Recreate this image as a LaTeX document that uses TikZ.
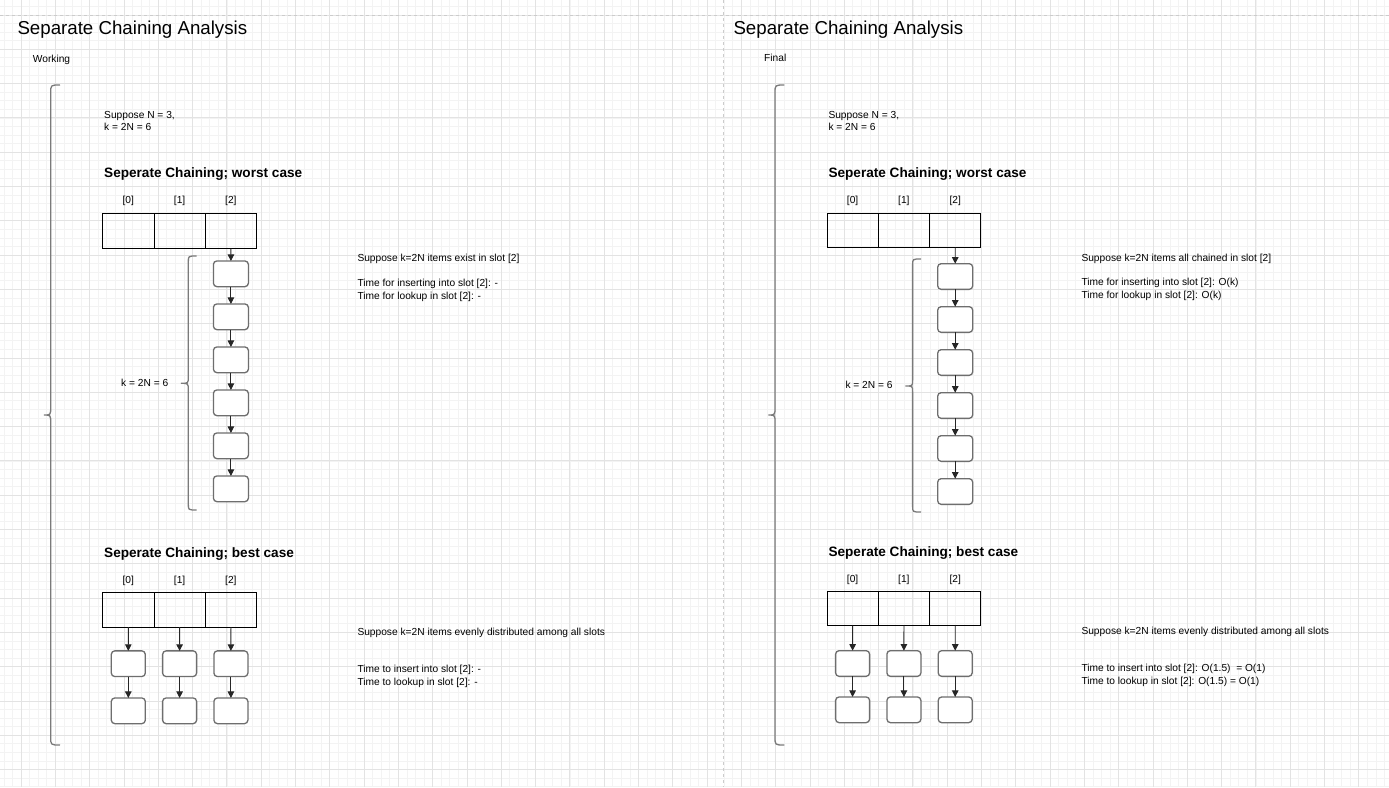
\documentclass[tikz,border=0pt]{standalone}
\usepackage{fontspec}
\setmainfont{Liberation Sans}
\usetikzlibrary{arrows.meta}
\definecolor{minorgrid}{HTML}{F3F3F3}
\definecolor{majorgrid}{HTML}{E3E3E3}
\definecolor{pageline}{HTML}{CCCCCC}
\definecolor{itemline}{HTML}{6E6E6E}
\definecolor{braceline}{HTML}{7A7A7A}
\tikzset{
  txt/.style={font=\fontsize{10.2}{12}\selectfont, inner sep=0pt, anchor=base west},
  idx/.style={font=\fontsize{10.2}{12}\selectfont, inner sep=0pt, anchor=base},
  bigtitle/.style={font=\fontsize{18.7}{22}\selectfont, inner sep=0pt, anchor=base west},
  header/.style={font=\bfseries\fontsize{13.6}{16}\selectfont, inner sep=0pt, anchor=base west},
  cell/.style={draw=black, line width=0.9pt, minimum width=51.3pt, minimum height=34.6pt, inner sep=0pt, outer sep=0pt, anchor=north west},
  item/.style={draw=itemline, fill=white, rounded corners=3.5pt, line width=1.3pt, minimum width=35pt, minimum height=25.7pt, inner sep=0pt, outer sep=0pt},
  link/.style={-{Triangle[length=6.5pt,width=6.5pt]}, line width=0.9pt, draw=black!85},
  brace/.style={draw=braceline, line width=1.3pt},
  pagedash/.style={draw=pageline, line width=1pt, dash pattern=on 3pt off 3pt}
}
\begin{document}
\begin{tikzpicture}[x=1pt,y=-1pt]
\useasboundingbox (0,0) rectangle (1389,787);
\fill[white] (0,0) rectangle (1389,787);
% grid
\foreach \i in {-2,...,159} {
  \draw[minorgrid, line width=0.8pt] ({21.1+8.575*\i},0) -- ({21.1+8.575*\i},787);
}
\foreach \j in {-1,...,90} {
  \draw[minorgrid, line width=0.8pt] (0,{15+8.575*\j}) -- (1389,{15+8.575*\j});
}
\foreach \i in {0,...,40} {
  \draw[majorgrid, line width=0.9pt] ({21.1+34.3*\i},0) -- ({21.1+34.3*\i},787);
}
\foreach \j in {0,...,22} {
  \draw[majorgrid, line width=0.9pt] (0,{15+34.3*\j}) -- (1389,{15+34.3*\j});
}
\draw[pagedash] (0,15.7) -- (1389,15.7);
\draw[pagedash] (723.5,0) -- (723.5,787);

% ================= LEFT PANEL =================
\node[bigtitle] (Ltitle) at (17.3,34.3) {Separate Chaining Analysis};
\node[txt] (Lwork) at (32.7,62.5) {Working};
\draw[brace] (60,85) .. controls (50.7,85) .. (50.7,93) -- (50.7,407) .. controls (50.7,415) .. (44,415) .. controls (50.7,415) .. (50.7,423) -- (50.7,737) .. controls (50.7,745) .. (60,745);
\node[txt] (LsupA) at (104,118.5) {Suppose N = 3,};
\node[txt] (LsupB) at (104,130.5) {k = 2N = 6};
\node[header] (Lworst) at (104,177.7) {Seperate Chaining; worst case};
\node[idx] (Lw0) at (128.3,203.5) {[0]};
\node[idx] (Lw1) at (179.6,203.5) {[1]};
\node[idx] (Lw2) at (230.9,203.5) {[2]};
\node[cell] (LW0) at (102.7,213.7) {};
\node[cell] (LW1) at (154,213.7) {};
\node[cell] (LW2) at (205.3,213.7) {};
\foreach \k in {1,...,6} {
  \node[item] (Lc\k) at (230.9,{273.8+43*(\k-1)}) {};
}
\draw[link] (LW2.south) -- (Lc1.north);
\foreach \a/\b in {1/2,2/3,3/4,4/5,5/6} {
  \draw[link] (Lc\a.south) -- (Lc\b.north);
}
\draw[brace] (196.7,256) .. controls (188.3,256) .. (188.3,262) -- (188.3,377) .. controls (188.3,383.3) .. (181,383.3) .. controls (188.3,383.3) .. (188.3,390) -- (188.3,504) .. controls (188.3,510) .. (196.7,510);
\node[txt] (Lk) at (121,386) {k = 2N = 6};
\node[txt] (LwA) at (357.3,261.7) {Suppose k=2N items exist in slot [2]};
\node[txt] (LwB) at (357.3,286.7) {Time for inserting into slot [2]: -};
\node[txt] (LwC) at (357.3,299.3) {Time for lookup in slot [2]: -};

\node[header] (Lbest) at (104,557.7) {Seperate Chaining; best case};
\node[idx] (Lb0) at (128.3,583) {[0]};
\node[idx] (Lb1) at (179.6,583) {[1]};
\node[idx] (Lb2) at (230.9,583) {[2]};
\node[cell] (LB0) at (102.7,592.5) {};
\node[cell] (LB1) at (154,592.5) {};
\node[cell] (LB2) at (205.3,592.5) {};
\foreach \c/\x in {0/128.3,1/179.6,2/230.9} {
  \node[item, minimum width=34pt] (Lr\c a) at (\x,663.7) {};
  \node[item, minimum width=34pt] (Lr\c b) at (\x,710.8) {};
  \draw[link] (LB\c.south) -- (Lr\c a.north);
  \draw[link] (Lr\c a.south) -- (Lr\c b.north);
}
\node[txt] (LbA) at (357.3,635) {Suppose k=2N items evenly distributed among all slots};
\node[txt] (LbB) at (357.3,672.7) {Time to insert into slot [2]: -};
\node[txt] (LbC) at (357.3,685) {Time to lookup in slot [2]: -};

% ================= RIGHT PANEL =================
\node[bigtitle] (Rtitle) at (733.3,34.3) {Separate Chaining Analysis};
\node[txt] (Rfinal) at (764,61.5) {Final};
\draw[brace] (784.3,85) .. controls (775,85) .. (775,93) -- (775,407) .. controls (775,415) .. (768.3,415) .. controls (775,415) .. (775,423) -- (775,737) .. controls (775,745) .. (784.3,745);
\node[txt] (RsupA) at (828.3,118.5) {Suppose N = 3,};
\node[txt] (RsupB) at (828.3,130.5) {k = 2N = 6};
\node[header] (Rworst) at (828.3,177.7) {Seperate Chaining; worst case};
\node[idx] (Rw0) at (852.6,203.5) {[0]};
\node[idx] (Rw1) at (903.9,203.5) {[1]};
\node[idx] (Rw2) at (955.2,203.5) {[2]};
\node[cell] (RW0) at (827,213) {};
\node[cell] (RW1) at (878.3,213) {};
\node[cell] (RW2) at (929.6,213) {};
\foreach \k in {1,...,6} {
  \node[item] (Rc\k) at (955.2,{276.5+43*(\k-1)}) {};
}
\draw[link] (RW2.south) -- (Rc1.north);
\foreach \a/\b in {1/2,2/3,3/4,4/5,5/6} {
  \draw[link] (Rc\a.south) -- (Rc\b.north);
}
\draw[brace] (921,259) .. controls (912.6,259) .. (912.6,265) -- (912.6,380) .. controls (912.6,386) .. (905.3,386) .. controls (912.6,386) .. (912.6,392) -- (912.6,506) .. controls (912.6,512) .. (921,512);
\node[txt] (Rk) at (845.3,388.5) {k = 2N = 6};
\node[txt] (RwA) at (1081.3,261.7) {Suppose k=2N items all chained in slot [2]};
\node[txt] (RwB) at (1081.3,285.7) {Time for inserting into slot [2]: O(k)};
\node[txt] (RwC) at (1081.3,298.5) {Time for lookup in slot [2]: O(k)};

\node[header] (Rbest) at (828.3,556.7) {Seperate Chaining; best case};
\node[idx] (Rb0) at (852.6,582) {[0]};
\node[idx] (Rb1) at (903.9,582) {[1]};
\node[idx] (Rb2) at (955.2,582) {[2]};
\node[cell] (RB0) at (827,591) {};
\node[cell] (RB1) at (878.3,591) {};
\node[cell] (RB2) at (929.6,591) {};
\foreach \c/\x in {0/852.6,1/903.9,2/955.2} {
  \node[item, minimum width=34pt] (Rr\c a) at (\x,663.5) {};
  \node[item, minimum width=34pt] (Rr\c b) at (\x,709.8) {};
  \draw[link] (RB\c.south) -- (Rr\c a.north);
  \draw[link] (Rr\c a.south) -- (Rr\c b.north);
}
\node[txt] (RbA) at (1081.3,634) {Suppose k=2N items evenly distributed among all slots};
\node[txt] (RbB) at (1081.3,671.7) {Time to insert into slot [2]: O(1.5)\ \ = O(1)};
\node[txt] (RbC) at (1081.3,684) {Time to lookup in slot [2]: O(1.5) = O(1)};
\end{tikzpicture}
\end{document}
